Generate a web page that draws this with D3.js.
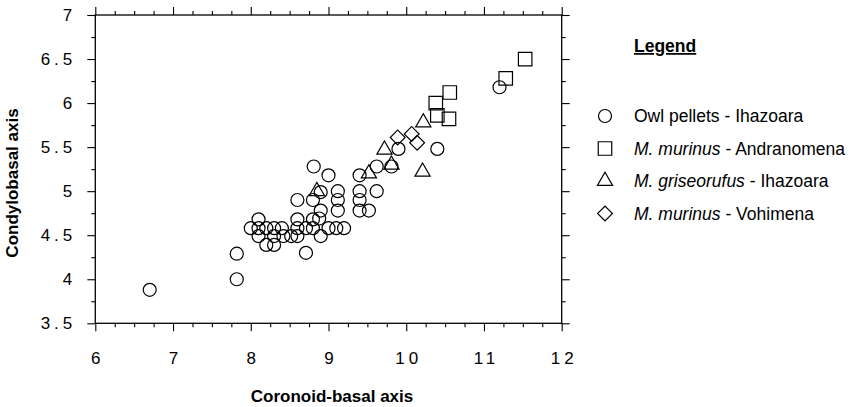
<!DOCTYPE html>
<html><head><meta charset="utf-8">
<script src="https://cdn.jsdelivr.net/npm/d3@7/dist/d3.min.js"></script>
<style>body{margin:0;background:#fff}svg{display:block}</style>
</head><body>
<svg id="c" width="859" height="407"></svg>
<script>
// ---- data ----
const xMajorTicks = [6, 7, 8, 9, 10, 11, 12];
const yMajorTicks = [3.5, 4, 4.5, 5, 5.5, 6, 6.5, 7];
const xTickLabels = ["6", "7", "8", "9", "10", "11", "12"];
const yTickLabels = ["3.5", "4", "4.5", "5", "5.5", "6", "6.5", "7"];

const owlPellets = [
  [6.7, 3.88], [7.82, 4.0], [7.82, 4.29], [8.0, 4.58], [8.1, 4.68], [8.1, 4.58],
  [8.1, 4.49], [8.2, 4.58], [8.2, 4.39], [8.3, 4.58], [8.3, 4.49], [8.3, 4.39],
  [8.4, 4.58], [8.42, 4.49], [8.52, 4.49], [8.6, 4.49], [8.6, 4.58], [8.6, 4.68],
  [8.6, 4.9], [8.71, 4.58], [8.71, 4.3], [8.8, 4.58], [8.8, 4.68], [8.8, 4.9],
  [8.81, 5.28], [8.9, 4.99], [8.9, 4.78], [8.88, 4.69], [8.9, 4.49], [9.0, 4.58],
  [9.0, 5.18], [9.12, 5.0], [9.12, 4.9], [9.12, 4.78], [9.1, 4.58], [9.2, 4.58],
  [9.4, 5.0], [9.4, 4.9], [9.4, 4.78], [9.4, 5.18], [9.52, 4.78], [9.62, 5.0],
  [9.62, 5.28], [9.81, 5.28], [9.9, 5.48], [10.4, 5.48], [11.2, 6.18]
];
const murinusAndranomena = [
  [10.38, 6.0], [10.4, 5.86], [10.56, 6.12], [10.55, 5.82], [11.28, 6.28], [11.53, 6.5]
];
const griseorufusIhazoara = [
  [8.85, 5.0], [9.52, 5.2], [9.72, 5.47], [9.81, 5.3], [10.22, 5.78], [10.21, 5.22]
];
const murinusVohimena = [
  [9.89, 5.61], [10.07, 5.65], [10.14, 5.55]
];
const legendItalic = ["", "M. murinus", "M. griseorufus", "M. murinus"];
const legendPlain = ["Owl pellets - Ihazoara", " - Andranomena", " - Ihazoara", " - Vohimena"];

// ---- layout ----
const L = 95.3, R = 561.7, T = 15, B = 323.3;
const svg = d3.select("#c");
const x = d3.scaleLinear().domain([6, 12]).range([L, R]);
const y = d3.scaleLinear().domain([3.5, 7]).range([B, T]);
const font = "'Liberation Sans', Arial, Helvetica, sans-serif";

const xMinor = d3.range(6, 12.001, 0.25).filter(v => !xMajorTicks.includes(v));
const yMinor = d3.range(3.5, 7.001, 0.25).filter(v => !yMajorTicks.includes(v));

function styleAxis(g) {
  g.select(".domain").remove();
  g.selectAll("line").attr("stroke", "#000").attr("stroke-width", 1.1);
  g.selectAll("text").attr("fill", "#000").style("font-family", font).style("font-size", "17px");
}

// minor ticks
svg.append("g").attr("transform", `translate(0,${B})`)
  .call(d3.axisBottom(x).tickValues(xMinor).tickSize(4).tickFormat("")).call(styleAxis);
svg.append("g").attr("transform", `translate(0,${T})`)
  .call(d3.axisTop(x).tickValues(xMinor).tickSize(4).tickFormat("")).call(styleAxis);
svg.append("g").attr("transform", `translate(${L},0)`)
  .call(d3.axisLeft(y).tickValues(yMinor).tickSize(4).tickFormat("")).call(styleAxis);
svg.append("g").attr("transform", `translate(${R},0)`)
  .call(d3.axisRight(y).tickValues(yMinor).tickSize(4).tickFormat("")).call(styleAxis);

// major ticks
svg.append("g").attr("transform", `translate(0,${B})`)
  .call(d3.axisBottom(x).tickValues(xMajorTicks).tickSize(8).tickPadding(21)
    .tickFormat((d, i) => xTickLabels[i])).call(styleAxis)
  .selectAll("text").style("letter-spacing", "4px").attr("dx", "2px");
svg.append("g").attr("transform", `translate(0,${T})`)
  .call(d3.axisTop(x).tickValues(xMajorTicks).tickSize(8).tickFormat("")).call(styleAxis);
svg.append("g").attr("transform", `translate(${L},0)`)
  .call(d3.axisLeft(y).tickValues(yMajorTicks).tickSize(8).tickPadding(11)
    .tickFormat((d, i) => yTickLabels[i])).call(styleAxis)
  .selectAll("text").style("letter-spacing", "4px");
svg.append("g").attr("transform", `translate(${R},0)`)
  .call(d3.axisRight(y).tickValues(yMajorTicks).tickSize(8).tickFormat("")).call(styleAxis);

// frame
svg.append("rect").attr("x", L).attr("y", T).attr("width", R - L).attr("height", B - T)
  .attr("fill", "none").attr("stroke", "#000").attr("stroke-width", 1.3);

// titles
svg.append("text").attr("x", 332).attr("y", 402).attr("text-anchor", "middle")
  .style("font-family", font).style("font-size", "17px").style("font-weight", "bold")
  .text("Coronoid-basal axis");
svg.append("text").attr("transform", "translate(18,183) rotate(-90)").attr("text-anchor", "middle")
  .style("font-family", font).style("font-size", "17px").style("font-weight", "bold")
  .text("Condylobasal axis");

// symbols
const circle = d3.symbol().type(d3.symbolCircle).size(Math.PI * 6.5 * 6.5);
const square = d3.symbol().type(d3.symbolSquare).size(13.5 * 13.5);
const triangle = d3.symbol().type(d3.symbolTriangle).size(100);
const diamond = d3.symbol().type(d3.symbolSquare).size(10.5 * 10.5);
const series = [
  {data: owlPellets, sym: circle, rot: 0},
  {data: murinusAndranomena, sym: square, rot: 0},
  {data: griseorufusIhazoara, sym: triangle, rot: 0},
  {data: murinusVohimena, sym: diamond, rot: 45}
];
series.forEach(s => {
  svg.append("g").selectAll("path").data(s.data).join("path")
    .attr("d", s.sym())
    .attr("transform", d => `translate(${x(d[0])},${y(d[1])}) rotate(${s.rot})`)
    .attr("fill", "none").attr("stroke", "#000").attr("stroke-width", 1.2);
});

// legend
svg.append("text").attr("x", 634).attr("y", 52)
  .style("font-family", font).style("font-size", "17.5px").style("font-weight", "bold")
  .style("text-decoration", "underline").text("Legend");
const rowY = [116, 148.5, 181, 213.5];
series.forEach((s, i) => {
  svg.append("path").attr("d", s.sym())
    .attr("transform", `translate(605,${rowY[i]}) rotate(${s.rot})`)
    .attr("fill", "none").attr("stroke", "#000").attr("stroke-width", 1.2);
  const t = svg.append("text").attr("x", 634).attr("y", rowY[i]).attr("dy", "0.35em")
    .style("font-family", font).style("font-size", "17.5px");
  if (legendItalic[i]) t.append("tspan").style("font-style", "italic").text(legendItalic[i]);
  t.append("tspan").text(legendPlain[i]);
});
</script>
</body></html>
